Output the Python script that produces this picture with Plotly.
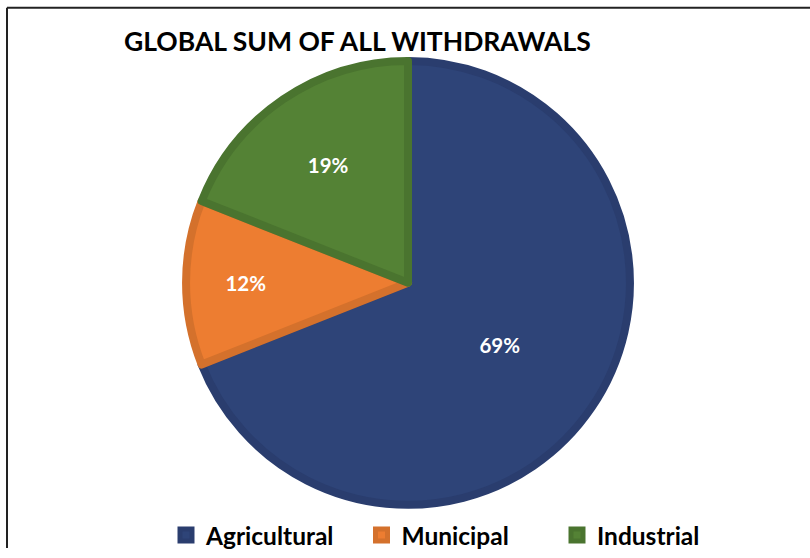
import plotly.graph_objects as go

# Share of global freshwater withdrawals by sector (%)
sectors = ["Agricultural", "Municipal", "Industrial"]
shares = [69, 12, 19]
fill_colors = ["#2E4478", "#ED7D31", "#548235"]
edge_colors = ["#2A3D6E", "#D4712C", "#4A742F"]

W, H = 810, 558

fig = go.Figure(
    go.Pie(
        labels=sectors,
        values=shares,
        sort=False,
        direction="clockwise",
        rotation=0,
        marker=dict(colors=fill_colors, line=dict(color=edge_colors, width=8)),
        texttemplate="%{value}%",
        textposition="inside",
        insidetextorientation="horizontal",
        textfont=dict(family="Lato", size=20.5, color="white", weight="bold"),
        hoverinfo="label+percent",
        domain=dict(x=[182 / W, 634 / W], y=[1 - 514 / H, 1 - 62 / H]),
    )
)

fig.update_layout(
    width=W,
    height=H,
    margin=dict(l=0, r=0, t=0, b=0),
    paper_bgcolor="white",
    plot_bgcolor="white",
    showlegend=True,
    legend=dict(
        orientation="h",
        x=166 / W,
        xanchor="left",
        y=1 - 522 / H,
        yanchor="top",
        font=dict(family="Lato", size=24.5, color="black", weight="bold"),
        traceorder="normal",
        entrywidth=150.5,
        entrywidthmode="pixels",
    ),
    annotations=[
        dict(
            text="GLOBAL SUM OF ALL WITHDRAWALS",
            x=357 / W,
            y=1 - 42 / H,
            xref="paper",
            yref="paper",
            xanchor="center",
            yanchor="middle",
            showarrow=False,
            font=dict(family="Lato", size=26.5, color="black", weight="bold"),
        )
    ],
    shapes=[
        # chart frame: left and top edges
        dict(type="line", xref="paper", yref="paper",
             x0=7 / W, y0=0, x1=7 / W, y1=1 - 8 / H,
             line=dict(color="#222222", width=2)),
        dict(type="line", xref="paper", yref="paper",
             x0=7 / W, y0=1 - 8 / H, x1=1, y1=1 - 8 / H,
             line=dict(color="#222222", width=2)),
    ],
)

fig.write_html("out.html")
